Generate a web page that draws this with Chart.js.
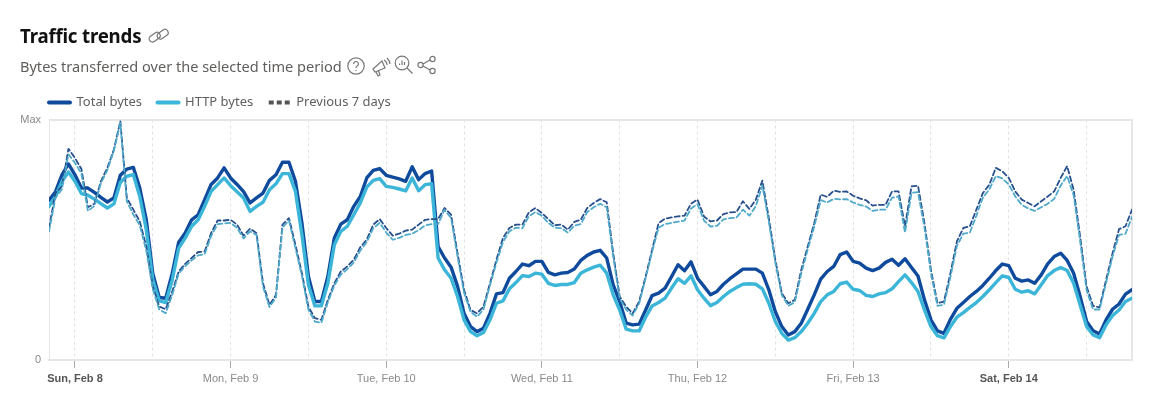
<!DOCTYPE html>
<html>
<head>
<meta charset="utf-8">
<title>Traffic trends</title>
<script src="https://cdn.jsdelivr.net/npm/chart.js@4"></script>
<style>
  html, body { margin: 0; padding: 0; background: #fff; overflow: hidden; }
  #wrap { position: relative; width: 1160px; height: 407px; }
  canvas { position: absolute; left: 0; top: 0; }
  h1 { position: absolute; left: 20px; top: 23px; margin: 0; font: 700 18.7px/26px "Noto Sans", sans-serif; color: #111; letter-spacing: -0.2px; }
  p { position: absolute; left: 20px; top: 55px; margin: 0; font: 400 14.55px/22px "Noto Sans", sans-serif; color: #605e5c; }
  svg.icon { position: absolute; fill: none; stroke: #777; stroke-width: 1.2; }
</style>
</head>
<body>
<div id="wrap">
  <canvas id="trafficChart" width="1160" height="407"></canvas>
  <h1>Traffic trends</h1>
  <p>Bytes transferred over the selected time period</p>
  <svg class="icon" style="left:147px;top:26px" width="24" height="20" viewBox="0 0 24 20"><rect x="1.5" y="8" width="12" height="6.5" rx="3.2" transform="rotate(-35 7.5 11)"/><rect x="9.5" y="5" width="12" height="6.5" rx="3.2" transform="rotate(-35 15.5 8)"/></svg>
  <svg class="icon" style="left:346px;top:56px" width="20" height="20" viewBox="0 0 20 20"><circle cx="10" cy="10" r="8.2"/><path d="M7.6 8a2.4 2.4 0 1 1 3.6 2c-.9.5-1.2 1-1.2 2"/><path d="M10 14v1"/></svg>
  <svg class="icon" style="left:371px;top:56px" width="20" height="22" viewBox="0 0 20 22"><path d="M2 13l9-8 3 7-10 4z"/><path d="M5 16l2 4 2-1-1.500-4"/><path d="M13 4c2 1 3 3 3 5M16 2c2 2 3 4 3 6"/></svg>
  <svg class="icon" style="left:394px;top:55px" width="20" height="20" viewBox="0 0 20 20"><circle cx="8" cy="8" r="6.8"/><path d="M13 13l5.500 5.500M5.500 10V8.500M8 10V5.500M10.500 10V7"/></svg>
  <svg class="icon" style="left:417px;top:55px" width="20" height="20" viewBox="0 0 20 20"><circle cx="3.500" cy="10" r="2.600"/><circle cx="15.500" cy="4" r="2.600"/><circle cx="15.500" cy="16" r="2.600"/><path d="M6 9l7-4M6 11l7 4"/></svg>
</div>
<script>
const tickHours = [4, 16, 28, 40, 52, 64, 76, 88, 100, 112, 124, 136, 148, 160];
const dayLabels = ['Sun, Feb 8', '', 'Mon, Feb 9', '', 'Tue, Feb 10', '', 'Wed, Feb 11', '', 'Thu, Feb 12', '', 'Fri, Feb 13', '', 'Sat, Feb 14', ''];
const boldDays = ['Sun, Feb 8', 'Sat, Feb 14'];

// values are percent of the (unlabelled) max, one per hour
const totalBytes = [
  66.4, 70, 77, 81.5, 77, 71.5, 71.5, 69.7, 67.6, 65.7,
  67.4, 76.8, 79.4, 80.1, 71.5, 58.3, 36, 26, 25.7, 36,
  49, 52.8, 58.3, 60.4, 66.7, 73, 75.7, 79.9, 75.7, 73,
  70, 65.3, 67.4, 69.4, 74.7, 77, 82.2, 82.2, 74.3, 57,
  34.7, 24.3, 24.3, 34.7, 50.7, 56.5, 58.3, 63.9, 68, 75.7,
  78.8, 79.6, 76.8, 76, 75.3, 74.3, 80.3, 75, 77.5, 78.6,
  47.2, 42.4, 38.6, 30.6, 19.4, 13.9, 11.8, 13.2, 19.4, 27.5,
  28, 34, 36.8, 39.9, 39.2, 41, 41, 36.4, 35.4, 36.1,
  36.4, 37.8, 41.4, 43.5, 44.9, 45.6, 42.4, 31.2, 24.3, 15.3,
  14.6, 14.9, 20.8, 26.8, 27.8, 29.9, 34.7, 39.6, 37.1, 40.8,
  34, 30.6, 27.1, 28.5, 31.5, 33.8, 35.8, 37.8, 37.8, 37.8,
  36.1, 29.2, 20.1, 13.9, 10.4, 11.8, 15.3, 21.1, 27.1, 33.6,
  36.8, 38.9, 43.8, 44.9, 41, 40.3, 38.2, 37.2, 38.2, 40.6,
  41.9, 39.4, 42.1, 38.5, 34.9, 25, 16.7, 12.1, 11.1, 16.9,
  21.5, 23.9, 26.4, 28.5, 31, 34, 37.2, 39.9, 39.2, 34,
  32.8, 33.3, 31.9, 35.4, 40, 43, 44.4, 41.4, 36.1, 26.4,
  16, 12.2, 10.8, 16.7, 21.1, 23.3, 27.4, 29.2
];
const httpBytes = [
  63.9, 68, 74.3, 78.2, 74.3, 69.2, 68.5, 66.9, 65, 63.2,
  64.9, 73.9, 76.4, 77.1, 68, 54.2, 33.3, 24.6, 23.9, 33.3,
  46.5, 50.7, 55.6, 58.3, 63.9, 70.1, 72.9, 75.7, 72.5, 70,
  67.4, 61.8, 63.9, 65.6, 70.8, 73.3, 77.5, 77.5, 70.1, 52.1,
  31.3, 22.5, 22.5, 31.9, 47.9, 53.5, 55.6, 60.4, 65.3, 71.9,
  74.7, 75.4, 72.2, 71.8, 71.1, 70.3, 75.7, 70.4, 72.9, 73.3,
  42.4, 37.5, 34, 26.4, 16.7, 11.8, 10.1, 11.4, 16.7, 23.6,
  24.6, 29.6, 32.2, 35.1, 34.7, 36.1, 35.7, 31.9, 31, 31.4,
  31.4, 32.2, 36.1, 37.5, 38.6, 39.4, 36.1, 27.1, 20.8, 12.8,
  12.1, 12.1, 17.8, 22.5, 23.9, 25.7, 29.9, 33.8, 31.9, 35,
  29.2, 25.7, 22.6, 23.9, 26.4, 28.5, 30.1, 31.5, 31.7, 31.5,
  29.6, 23.6, 16, 11.1, 8.3, 9.3, 11.8, 15.3, 19.4, 24.3,
  27.1, 28.5, 31.7, 32.4, 29.4, 28.9, 26.9, 26.4, 27.5, 28,
  29.6, 32.6, 35.4, 32.2, 28.5, 20.8, 13.9, 10.1, 9.2, 13.9,
  17.8, 19.7, 21.9, 23.9, 26.4, 29.2, 32.2, 35, 34.3, 29.4,
  28.2, 28.8, 27.5, 31.3, 35.1, 37.2, 38.5, 37.2, 31.9, 22.9,
  13.9, 10.4, 9.3, 14.6, 18.5, 20.8, 24.3, 25.7
];
const prevTotalBytes = [
  54.9, 69.4, 72.2, 87.8, 84, 79.4, 63.5, 65, 74.3, 79.9,
  87.5, 99.3, 67.4, 62.5, 57.6, 47.2, 30.6, 22.2, 21.1, 28.5,
  36.8, 40, 42.4, 44.9, 45.1, 52.8, 58, 58, 58.3, 56.3,
  51.7, 54.6, 52.8, 31.9, 22.9, 27.1, 56.3, 59, 47.9, 36.1,
  22.2, 17.4, 16.7, 25, 31.9, 36.8, 38.9, 41.7, 46.9, 50,
  56.3, 58.6, 54.9, 51.7, 52.5, 53.8, 54.2, 56.3, 58.3, 58.6,
  58.6, 63.2, 60.4, 44.4, 29.2, 20.8, 19.4, 22.2, 31.9, 41.7,
  50.7, 54.9, 56.3, 56.3, 61.4, 63.2, 61.1, 58.6, 56, 56.3,
  54.2, 57.4, 58.3, 63.2, 65.3, 66.9, 65.6, 44.4, 26.4, 22.2,
  19.4, 24.3, 34.7, 45.8, 56.9, 58.8, 59.3, 59.7, 60, 65,
  66.7, 59.7, 57.6, 58, 60.7, 61.4, 61.5, 66, 62.8, 66.7,
  74.6, 59, 41.7, 27.8, 23.6, 25, 37.5, 47.2, 56.9, 68.8,
  67.8, 70.4, 69.9, 70.1, 68.3, 67.2, 66.4, 64.2, 64.5, 64.5,
  70.1, 70.1, 55.6, 72.2, 72.5, 56.9, 37.5, 23.6, 24.3, 36.1,
  49.3, 54.9, 55.6, 62.5, 69.4, 72.9, 79.9, 78.5, 75.7, 70.1,
  66.7, 65.3, 63.9, 66, 68, 70.1, 75.7, 80.6, 70.8, 51.4,
  30.6, 22.5, 21.9, 33.3, 44.4, 54.4, 55.6, 62.5
];
const prevHttpBytes = [
  53.5, 67.5, 71, 85.5, 82, 77.5, 62, 64, 73.5, 79,
  87, 98.5, 66, 60.5, 56, 45.5, 29.5, 21, 19.5, 27,
  36, 39, 41.5, 43.5, 44, 51.5, 56.5, 56.8, 57, 55,
  50.5, 53.5, 52, 30.5, 22, 26, 55, 58, 46.5, 35,
  21, 16, 15.5, 24, 31, 35.5, 37.8, 40.5, 45.5, 49,
  54.8, 57, 53, 50, 50.8, 52, 52.5, 54, 56, 56.5,
  56.5, 62.5, 59, 43, 28, 20, 18, 21, 31, 40.5,
  49, 53.5, 55, 54.8, 59.8, 61.5, 60, 57, 55, 54.8,
  53, 55.8, 56.5, 61.5, 63.5, 65, 63.5, 43, 25.5, 21,
  18.5, 23.5, 34, 45, 55, 56.5, 57, 57.5, 58, 63,
  64.8, 58, 55.5, 55.8, 58.5, 59, 59.2, 62.5, 60, 64,
  72.5, 57.5, 40.5, 27, 22.5, 24, 36, 46, 55.5, 66.5,
  65.5, 67, 66.8, 66.9, 65.5, 64.5, 63.8, 62, 62.5, 62.5,
  67.5, 68, 53, 69.5, 69.8, 55, 36, 22.5, 23, 34.5,
  47.5, 52.5, 53, 60, 67.5, 71, 76.5, 75.5, 73, 68,
  64.5, 63, 62, 63.5, 65, 67, 72.5, 76.5, 68.5, 49.5,
  29, 21, 21, 32, 43, 52, 52.5, 59.5
];

const gridGrey = '#e6e6e6';
const legendText = '#605e5c';
const axisFont = 'Liberation Sans';

function toPoints(values) {
  return values.map((v, i) => ({ x: i, y: v }));
}

// scale-level contexts have no tick, so this has to cope with that
function labelFor(ctx) {
  return ctx.tick ? dayLabels[tickHours.indexOf(ctx.tick.value)] : '';
}

const legendPad = 15.5;

// the library insets the legend by its own padding, pull it back to the plot edge
const legendAtPlotEdge = {
  id: 'legendAtPlotEdge',
  afterLayout(chart) {
    const legend = chart.legend;
    legend.left = chart.chartArea.left - legendPad;
    legend.right = legend.left + legend.width;
    legend.top = 80.5;
    legend.bottom = legend.top + legend.height;
  }
};

new Chart(document.getElementById('trafficChart').getContext('2d'), {
  type: 'line',
  plugins: [legendAtPlotEdge],
  data: {
    datasets: [
      { label: 'Previous HTTP bytes', data: toPoints(prevHttpBytes), borderColor: '#4fa9c9', borderWidth: 1.8, borderDash: [5, 3] },
      { label: 'Previous 7 days', data: toPoints(prevTotalBytes), borderColor: '#274f8c', borderWidth: 1.8, borderDash: [5, 3] },
      { label: 'HTTP bytes', data: toPoints(httpBytes), borderColor: '#3bb5d8', borderWidth: 3.4 },
      { label: 'Total bytes', data: toPoints(totalBytes), borderColor: '#0f4a9c', borderWidth: 3.4 }
    ]
  },
  options: {
    responsive: false,
    animation: false,
    parsing: false,
    normalized: true,
    elements: {
      point: { radius: 0 },
      line: { tension: 0, borderJoinStyle: 'round', borderCapStyle: 'round' }
    },
    layout: { padding: { left: 0, right: 28, top: 81, bottom: 0 } },
    plugins: {
      tooltip: { enabled: false },
      legend: {
        position: 'top',
        align: 'start',
        fullSize: false,
        labels: {
          usePointStyle: true,
          pointStyleWidth: 21,
          boxHeight: 5,
          padding: legendPad,
          color: legendText,
          font: { family: 'Noto Sans', size: 13 },
          generateLabels() {
            return [
              { text: 'Total bytes', fontColor: legendText, strokeStyle: '#0f4a9c', fillStyle: '#0f4a9c', lineWidth: 4, lineCap: 'round', pointStyle: 'line', datasetIndex: 3 },
              { text: 'HTTP bytes', fontColor: legendText, strokeStyle: '#3bb5d8', fillStyle: '#3bb5d8', lineWidth: 4, lineCap: 'round', pointStyle: 'line', datasetIndex: 2 },
              { text: 'Previous 7 days', fontColor: legendText, strokeStyle: '#555', fillStyle: '#555', lineWidth: 4, lineDash: [5, 3], pointStyle: 'line', datasetIndex: 1 }
            ];
          }
        }
      }
    },
    scales: {
      x: {
        type: 'linear',
        min: 0,
        max: 167,
        afterBuildTicks(scale) {
          scale.ticks = tickHours.map(h => ({ value: h }));
        },
        afterFit(scale) { scale.height = 47; },
        border: { color: gridGrey, width: 2, dash: [3, 3] },
        grid: {
          color: '#e2e2e2',
          lineWidth: 1,
          tickLength: 8,
          tickBorderDash: [],
          tickColor: ctx => (labelFor(ctx) ? '#aaa' : 'rgba(0,0,0,0)')
        },
        ticks: {
          autoSkip: false,
          maxRotation: 0,
          padding: 4,
          callback: value => dayLabels[tickHours.indexOf(value)],
          color: ctx => (boldDays.includes(labelFor(ctx)) ? '#555' : '#8a8a8a'),
          font: ctx => ({
            family: axisFont,
            size: 11,
            weight: boldDays.includes(labelFor(ctx)) ? 'bold' : 'normal'
          })
        }
      },
      y: {
        min: 0,
        max: 100,
        afterBuildTicks(scale) {
          scale.ticks = [{ value: 0 }, { value: 100 }];
        },
        afterFit(scale) { scale.width = 49; },
        border: { color: gridGrey, width: 1 },
        grid: { color: gridGrey, lineWidth: 2, drawTicks: false },
        ticks: {
          padding: 8,
          color: '#8a8a8a',
          font: { family: axisFont, size: 11 },
          callback: value => (value === 100 ? 'Max' : '0')
        }
      },
      yRight: {
        position: 'right',
        min: 0,
        max: 100,
        afterFit(scale) { scale.width = 0; },
        border: { color: gridGrey, width: 2 },
        grid: { display: false },
        ticks: { display: false }
      }
    }
  }
});
</script>
</body>
</html>
